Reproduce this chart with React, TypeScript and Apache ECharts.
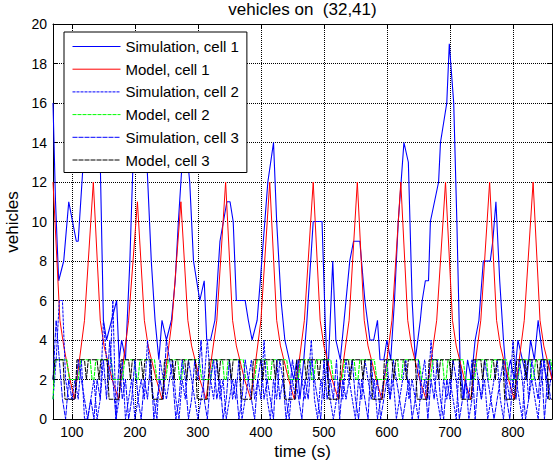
import React, { useEffect, useRef } from "react";
import * as echarts from "echarts";

const titleText = "vehicles on  (32,41)";
const xName = "time (s)";
const yName = "vehicles";
const seriesNames = [
  "Simulation, cell 1",
  "Model, cell 1",
  "Simulation, cell 2",
  "Model, cell 2",
  "Simulation, cell 3",
  "Model, cell 3",
];
const xTicks = [100, 200, 300, 400, 500, 600, 700, 800];
const xMin = 70;
const xMax = 862;
const yMin = 0;
const yMax = 20;
const yStep = 2;

// Simulation, cell 1 (time, vehicles)
const sim1Points = [
  [70, 16], [74, 11], [79, 7], [87, 8], [95, 11], [101, 10], [107, 9], [110, 9], [118, 13], [127, 14],
  [138, 14], [145, 13], [150, 5], [155, 4], [163, 5], [171, 6], [175, 3], [179, 4], [185, 3], [192, 8],
  [197, 13], [202, 14], [212, 14], [219, 13], [226, 8], [232, 5], [238, 3], [243, 5], [250, 4], [258, 5],
  [264, 7], [269, 10], [275, 13], [281, 14], [287, 12], [293, 8], [303, 6], [310, 7], [314, 4], [320, 4],
  [327, 5], [335, 9], [346, 11], [351, 11], [356, 10], [361, 6], [375, 6], [380, 5], [386, 4], [394, 5],
  [399, 7], [411, 12], [420, 14], [425, 10], [432, 6], [438, 4], [445, 3], [452, 2], [457, 3], [462, 1],
  [468, 3], [473, 5], [483, 10], [497, 10], [502, 5], [506, 2], [510, 5], [514, 8], [519, 4], [526, 3],
  [532, 5], [541, 8], [547, 9], [557, 9], [565, 6], [573, 4], [579, 4], [585, 5], [589, 3], [595, 3],
  [600, 4], [606, 3], [612, 6], [618, 10], [627, 14], [634, 13], [640, 6], [645, 3], [653, 5], [656, 6],
  [661, 7], [666, 7], [669, 10], [682, 12], [685, 14], [695, 16], [699, 19], [706, 16], [711, 10], [716, 3],
  [722, 1], [728, 3], [734, 2], [740, 4], [746, 5], [753, 8], [764, 8], [768, 9], [773, 11], [779, 7],
  [785, 4], [790, 2], [796, 3], [802, 2], [808, 4], [815, 3], [822, 2], [828, 4], [834, 3], [840, 5],
  [848, 3], [853, 2], [858, 3], [862, 2],
];

// Model, cell 1
const model1Points = [
  [70, 12], [81, 5], [87, 3.7], [97, 2], [104, 1], [108, 2], [120, 5], [134, 12],
  [145, 5], [151, 3.7], [164, 2], [174, 1], [178, 2], [190, 5], [204, 11],
  [215, 5], [221, 3.7], [234, 2], [243, 1], [247, 2], [259, 5], [273, 11],
  [284, 5], [290, 3.7], [303, 2], [313, 1], [317, 2], [330, 5], [344, 12],
  [355, 5], [361, 3.7], [374, 2], [384, 1], [388, 2], [400, 5], [414, 12],
  [425, 5], [431, 3.7], [444, 2], [453, 1], [457, 2], [469, 5], [483, 12],
  [494, 5], [500, 3.7], [513, 2], [523, 1], [527, 2], [540, 5], [553, 12],
  [564, 5], [570, 3.7], [583, 2], [592, 1], [596, 2], [608, 5], [622, 12],
  [633, 5], [639, 3.7], [652, 2], [662, 1], [666, 2], [679, 5], [693, 12],
  [704, 5], [710, 3.7], [723, 2], [733, 1], [737, 2], [749, 5], [763, 12],
  [774, 5], [780, 3.7], [793, 2], [802, 1], [806, 2], [818, 5], [832, 12],
  [843, 5], [849, 3.7], [862, 2],
];

// Simulation, cell 2 and 3: one sample every 5 s from t = 70
const sampleStart = 70;
const sampleStep = 5;
const sim2Values = [
  1, 3, 6, 6, 2, 1, 1, 2, 1, 3, 0, 0, 1, 2,
  0, 1, 5, 3, 2, 6, 0, 1, 3, 0, 1, 2, 0, 1,
  2, 1, 4, 2, 1, 0, 3, 2, 1, 2, 3, 1, 0, 2,
  1, 3, 2, 1, 0, 1, 2, 4, 2, 1, 3, 1, 2, 0,
  1, 2, 1, 3, 0, 1, 2, 3, 1, 2, 1, 4, 1, 0,
  2, 1, 3, 2, 1, 0, 2, 1, 3, 2, 1, 2, 4, 1,
  0, 2, 1, 3, 1, 0, 1, 2, 1, 3, 2, 1, 0, 2,
  1, 3, 2, 1, 2, 0, 1, 2, 3, 1, 2, 0, 1, 2,
  3, 1, 2, 1, 0, 2, 3, 1, 4, 2, 1, 0, 2, 1,
  2, 1, 0, 3, 1, 2, 0, 1, 3, 2, 1, 2, 0, 1,
  2, 3, 1, 0, 2, 1, 4, 2, 1, 0, 3, 1, 2, 1,
  0, 2, 3, 1, 2,
];
const sim3Values = [
  2, 5, 3, 1, 0, 2, 1, 1, 3, 2, 1, 0, 1, 0,
  2, 1, 3, 1, 4, 2, 0, 3, 1, 2, 0, 1, 3, 1,
  0, 2, 1, 3, 0, 1, 2, 1, 4, 3, 2, 0, 1, 3,
  2, 0, 1, 3, 2, 4, 1, 0, 2, 3, 1, 2, 0, 1,
  3, 1, 2, 0, 1, 3, 2, 1, 0, 2, 3, 1, 2, 1,
  0, 3, 1, 2, 0, 1, 3, 2, 1, 0, 2, 1, 3, 2,
  1, 0, 3, 1, 2, 1, 3, 0, 2, 1, 2, 3, 1, 0,
  2, 1, 0, 3, 1, 2, 0, 1, 2, 1, 3, 2, 1, 0,
  1, 2, 0, 1, 3, 1, 2, 0, 2, 1, 3, 1, 0, 2,
  1, 3, 2, 0, 1, 2, 1, 3, 0, 2, 1, 3, 2, 1,
  0, 1, 2, 3, 1, 0, 2, 1, 3, 2, 0, 1, 3, 2,
  1, 3, 0, 2, 1,
];

// Model, cell 2
const model2Points = [
  [70, 1], [73, 3], [92, 3], [96, 2], [110, 2], [114, 3], [129, 3], [132, 2], [135, 2], [138, 3],
  [162, 3], [166, 2], [180, 2], [184, 3], [199, 3], [202, 2], [205, 2], [208, 3],
  [231, 3], [235, 2], [249, 2], [253, 3], [268, 3], [271, 2], [274, 2], [277, 3],
  [302, 3], [306, 2], [320, 2], [324, 3], [339, 3], [342, 2], [345, 2], [348, 3],
  [372, 3], [376, 2], [390, 2], [394, 3], [409, 3], [412, 2], [415, 2], [418, 3],
  [441, 3], [445, 2], [459, 2], [463, 3], [478, 3], [481, 2], [484, 2], [487, 3],
  [511, 3], [515, 2], [529, 2], [533, 3], [548, 3], [551, 2], [554, 2], [557, 3],
  [580, 3], [584, 2], [598, 2], [602, 3], [617, 3], [620, 2], [623, 2], [626, 3],
  [651, 3], [655, 2], [669, 2], [673, 3], [688, 3], [691, 2], [694, 2], [697, 3],
  [721, 3], [725, 2], [739, 2], [743, 3], [758, 3], [761, 2], [764, 2], [767, 3],
  [790, 3], [794, 2], [808, 2], [812, 3], [827, 3], [830, 2], [833, 2], [836, 3],
  [860, 3], [862, 2.5],
];

// Model, cell 3
const model3Points = [
  [70, 2], [73, 3], [86, 3], [89, 1], [105, 1], [108, 3], [120, 3], [123, 2], [126, 3], [140, 3], [143, 2], [146, 3],
  [156, 3], [159, 1], [175, 1], [178, 3], [190, 3], [193, 2], [196, 3], [210, 3], [213, 2], [216, 3],
  [225, 3], [228, 1], [244, 1], [247, 3], [259, 3], [262, 2], [265, 3], [279, 3], [282, 2], [285, 3],
  [296, 3], [299, 1], [315, 1], [318, 3], [330, 3], [333, 2], [336, 3], [350, 3], [353, 2], [356, 3],
  [366, 3], [369, 1], [385, 1], [388, 3], [400, 3], [403, 2], [406, 3], [420, 3], [423, 2], [426, 3],
  [435, 3], [438, 1], [454, 1], [457, 3], [469, 3], [472, 2], [475, 3], [489, 3], [492, 2], [495, 3],
  [505, 3], [508, 1], [524, 1], [527, 3], [539, 3], [542, 2], [545, 3], [559, 3], [562, 2], [565, 3],
  [574, 3], [577, 1], [593, 1], [596, 3], [608, 3], [611, 2], [614, 3], [628, 3], [631, 2], [634, 3],
  [645, 3], [648, 1], [664, 1], [667, 3], [679, 3], [682, 2], [685, 3], [699, 3], [702, 2], [705, 3],
  [715, 3], [718, 1], [734, 1], [737, 3], [749, 3], [752, 2], [755, 3], [769, 3], [772, 2], [775, 3],
  [784, 3], [787, 1], [803, 1], [806, 3], [818, 3], [821, 2], [824, 3], [838, 3], [841, 2], [844, 3],
  [854, 3], [857, 1], [862, 1],
];

const FONT = "'Liberation Sans', Arial, Helvetica, sans-serif";

function sampled(values: number[]) {
  return values.map((v, i) => [sampleStart + i * sampleStep, v]);
}

export default function App() {
  const ref = useRef<HTMLDivElement>(null);

  useEffect(() => {
    if (!ref.current) return;
    const chart = echarts.init(ref.current, undefined, { renderer: "svg" });

    const axisLine = { show: true, onZero: false, lineStyle: { color: "#000", width: 1 } };
    const tick = { show: true, inside: true, length: 5, lineStyle: { color: "#000", width: 1 } };
    const grid = { show: true, lineStyle: { color: "#000", width: 1, type: [1, 1] as any, opacity: 1 } };

    const line = (name: string, data: number[][], color: string, type: any, width = 1) => ({
      name,
      type: "line",
      data,
      showSymbol: false,
      symbol: "none",
      silent: true,
      lineStyle: { color, width, type },
      itemStyle: { color },
    });

    chart.setOption({
      animation: false,
      backgroundColor: "#fff",
      grid: { left: 53, top: 24, width: 499, height: 395, containLabel: false },
      xAxis: [
        {
          type: "value",
          min: xMin,
          max: xMax,
          position: "bottom",
          axisLine,
          axisTick: { ...tick, customValues: xTicks },
          axisLabel: { customValues: xTicks, margin: 6, color: "#000", fontSize: 14, fontFamily: FONT },
          splitLine: grid,
        },
        {
          type: "value",
          min: xMin,
          max: xMax,
          position: "top",
          axisLine,
          axisTick: { ...tick, customValues: xTicks },
          axisLabel: { show: false, customValues: xTicks },
          splitLine: { show: false },
        },
      ],
      yAxis: [
        {
          type: "value",
          min: yMin,
          max: yMax,
          interval: yStep,
          position: "left",
          axisLine,
          axisTick: tick,
          axisLabel: { margin: 6, color: "#000", fontSize: 14, fontFamily: FONT },
          splitLine: grid,
        },
        {
          type: "value",
          min: yMin,
          max: yMax,
          interval: yStep,
          position: "right",
          axisLine,
          axisTick: tick,
          axisLabel: { show: false },
          splitLine: { show: false },
        },
      ],
      legend: {
        data: seriesNames,
        orient: "vertical",
        left: 64,
        top: 32,
        itemWidth: 48,
        itemHeight: 14,
        itemGap: 7.7,
        padding: [7, 8, 5, 8],
        borderColor: "#000",
        borderWidth: 1,
        borderRadius: 0,
        backgroundColor: "#fff",
        selectedMode: false,
        itemStyle: { color: "rgba(0,0,0,0)", borderColor: "rgba(0,0,0,0)", borderWidth: 0, opacity: 0 },
        lineStyle: { width: 1 },
        textStyle: { color: "#000", fontSize: 15, fontFamily: FONT },
      },
      graphic: [
        {
          type: "text",
          x: 302.5,
          y: 9,
          style: { text: titleText, fill: "#000", fontSize: 17, fontFamily: FONT, align: "center", verticalAlign: "middle" },
        },
        {
          type: "text",
          x: 302.5,
          y: 451,
          style: { text: xName, fill: "#000", fontSize: 17, fontFamily: FONT, align: "center", verticalAlign: "middle" },
        },
        {
          type: "text",
          x: 12,
          y: 222,
          rotation: Math.PI / 2,
          style: { text: yName, fill: "#000", fontSize: 17, fontFamily: FONT, align: "center", verticalAlign: "middle" },
        },
      ],
      series: [
        line(seriesNames[0], sim1Points, "#0000ff", "solid", 1.1),
        line(seriesNames[1], model1Points, "#ff0000", "solid", 1),
        line(seriesNames[2], sampled(sim2Values), "#0000ff", [3, 1], 1),
        line(seriesNames[3], model2Points, "#00ff00", [4, 1], 1.1),
        line(seriesNames[4], sampled(sim3Values), "#0000ff", [5, 1], 1),
        line(seriesNames[5], model3Points, "#000000", [5, 1], 1),
      ],
    });

    return () => chart.dispose();
  }, []);

  return (
    <div
      ref={ref}
      style={{ position: "absolute", left: 0, top: 0, width: 553, height: 467, background: "#fff" }}
    />
  );
}
